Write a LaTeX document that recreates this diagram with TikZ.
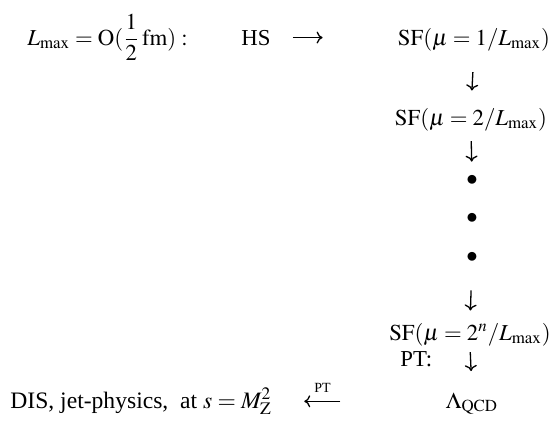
\documentclass[tikz,border=0pt]{standalone}
\usepackage{amsmath}
\usepackage{mathptmx}
\usepackage{fontspec}
\setmainfont{Liberation Serif}
\usetikzlibrary{positioning,arrows.meta,calc}

\begin{document}
\begin{tikzpicture}[x=0.5pt,y=-0.5pt,
    every node/.style={inner sep=0pt,font=\fontsize{11.4}{13.5}\selectfont},
    arr/.style={-{To[length=3pt,width=6pt]},line width=0.65pt}]
  \useasboundingbox (0,0) rectangle (551,430);
  % top row
  \node[anchor=base west] (lmax) at (27,45) {$L_{\mathrm{max}}=\mathrm{O}(\dfrac{1}{2}\,\mathrm{fm}):$};
  \node[anchor=base] (hs) at (256,45) {HS};
  \node[anchor=base] (sf1) at (474,45) {$\mathrm{SF}(\mu=1/L_{\mathrm{max}})$};
  % the chain down
  \node[anchor=base] (sf2) at (471,125) {$\mathrm{SF}(\mu=2/L_{\mathrm{max}})$};
  \node (d1) at (472,181) {$\bullet$};
  \node (d2) at (472,219) {$\bullet$};
  \node (d3) at (472,258) {$\bullet$};
  \node[anchor=base] (sfn) at (470,340) {$\mathrm{SF}(\mu=2^n/L_{\mathrm{max}})$};
  \node[anchor=base west] (pt) at (400,366) {PT:};
  \node[anchor=base] (lam) at (472,408) {$\Lambda_{\mathrm{QCD}}$};
  % bottom row
  \node[anchor=base west,font=\fontsize{11.8}{14}\selectfont] (dis) at (10,408) {DIS, jet-physics,\ \ at $s=M_{\mathrm{Z}}^2$};
  \draw[arr,shorten <=11pt,shorten >=37.5pt] (hs.east) -- (hs.east -| sf1.west);
  \draw[arr,shorten <=10.5pt,shorten >=8.5pt] (sf1.south) -- (sf2.north);
  \draw[arr,shorten <=5pt,shorten >=7pt] (sf2.south) -- (d1.north);
  \draw[arr,shorten <=13.5pt,shorten >=6pt] (d3.south) -- (sfn.north);
  \draw[arr,shorten <=3pt,shorten >=10.5pt] (sfn.south) -- (lam.north);
  \draw[arr,shorten <=52.5pt,shorten >=16pt] (lam.west |- dis.east) -- node[pos=0.71,above=4pt,font=\scriptsize] (ptl) {PT} (dis.east);
\end{tikzpicture}
\end{document}
